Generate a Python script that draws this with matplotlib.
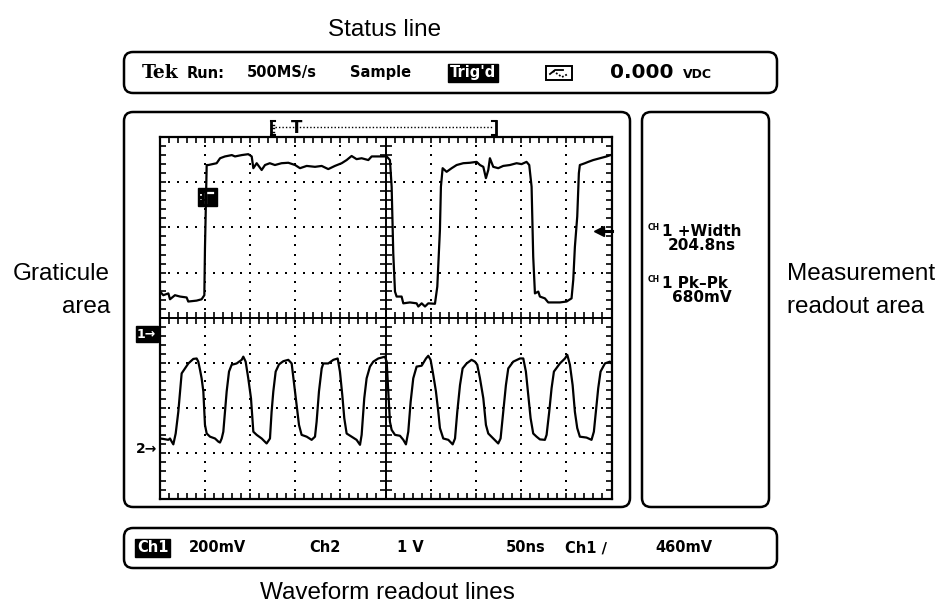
import matplotlib.pyplot as plt
import numpy as np
from matplotlib.patches import FancyBboxPatch, Rectangle

# time in ns (50 ns/div, 10 div), vertical in screen divisions (0 = centre line)
ch1_t = [
    0.6, 4.2, 9.8, 11.6, 17.1, 22.7, 30.0, 31.8, 41.0, 46.6,
    49.6, 50.3, 52.2, 54.0, 63.2, 67.0, 72.4, 80.0, 83.5, 91.0,
    98.2, 102.0, 103.8, 107.5, 113.0, 116.7, 122.0, 127.7, 135.0, 142.5,
    150.0, 155.4, 162.8, 172.0, 179.4, 186.7, 194.0, 201.5, 207.0, 212.5,
    218.0, 223.6, 231.0, 234.7, 249.4, 251.3, 254.9, 256.8, 258.6, 260.5,
    262.3, 267.8, 269.7, 277.0, 284.4, 286.3, 290.0, 293.7, 297.3, 304.7,
    307.3, 310.2, 311.3, 313.2, 317.6, 323.2, 328.7, 336.0, 343.4, 350.8,
    354.5, 358.2, 361.1, 363.7, 365.5, 369.2, 374.7, 380.2, 387.6, 395.0,
    400.5, 406.0, 409.0, 411.6, 413.4, 415.3, 419.0, 420.8, 426.3, 430.0,
    442.9, 450.3, 455.8, 457.7, 459.5, 462.1, 463.9, 465.0, 470.6, 474.3,
    479.8, 487.2, 494.6, 499.0]
ch1_y = [
    0.58, 0.50, 0.54, 0.41, 0.50, 0.47, 0.45, 0.36, 0.38, 0.41,
    0.50, 1.54, 3.38, 3.38, 3.42, 3.53, 3.57, 3.60, 3.57, 3.60,
    3.62, 3.57, 3.31, 3.42, 3.27, 3.38, 3.42, 3.38, 3.42, 3.43,
    3.38, 3.31, 3.36, 3.34, 3.36, 3.29, 3.36, 3.42, 3.49, 3.58,
    3.51, 3.53, 3.49, 3.57, 3.57, 3.57, 3.49, 2.90, 1.42, 0.58,
    0.47, 0.47, 0.32, 0.34, 0.32, 0.25, 0.32, 0.25, 0.32, 0.31,
    0.69, 1.94, 2.90, 3.31, 3.23, 3.31, 3.38, 3.42, 3.43, 3.45,
    3.38, 3.34, 3.09, 3.27, 3.53, 3.34, 3.31, 3.36, 3.38, 3.42,
    3.40, 3.45, 3.38, 2.90, 1.35, 0.54, 0.58, 0.47, 0.43, 0.34,
    0.34, 0.36, 0.43, 0.84, 1.57, 2.24, 3.20, 3.38, 3.42, 3.45,
    3.49, 3.53, 3.57, 3.60]

ch2_t = [
    0.6, 4.2, 9.8, 11.6, 13.5, 15.3, 17.9, 20.8, 22.7, 24.5,
    28.2, 31.9, 37.4, 41.1, 42.9, 44.8, 46.6, 48.5, 49.6, 50.3,
    52.2, 55.9, 61.4, 65.1, 66.9, 68.8, 70.6, 72.4, 74.3, 76.9,
    79.8, 85.3, 90.9, 92.7, 95.3, 98.2, 101.2, 102.7, 103.8, 107.5,
    113.0, 118.5, 122.2, 124.0, 125.9, 128.5, 132.2, 137.0, 142.5, 146.2,
    149.1, 151.7, 154.3, 157.2, 162.8, 168.3, 172.0, 173.8, 176.4, 179.4,
    181.2, 186.7, 192.3, 197.1, 199.6, 202.2, 204.4, 207.0, 212.5, 218.0,
    221.8, 223.6, 226.5, 229.1, 232.8, 236.5, 242.0, 249.4, 251.3, 254.9,
    256.8, 260.5, 266.0, 269.7, 272.6, 275.2, 277.8, 280.7, 284.4, 290.0,
    294.8, 297.3, 299.9, 302.9, 305.8, 308.4, 310.2, 313.9, 319.5, 324.3,
    326.9, 329.4, 332.4, 335.3, 339.7, 345.2, 348.9, 351.5, 354.5, 358.2,
    361.1, 363.7, 369.2, 374.7, 377.3, 380.2, 383.2, 385.8, 391.3, 398.7,
    402.4, 405.3, 407.9, 410.5, 413.4, 417.1, 420.8, 426.3, 428.2, 431.1,
    433.7, 436.3, 442.9, 448.5, 451.1, 454.0, 457.0, 459.5, 462.1, 465.0,
    472.4, 477.9, 480.5, 482.7, 485.3, 487.9, 492.7, 498.2, 500.0]
ch2_y = [
    -2.67, -2.68, -2.70, -2.67, -2.74, -2.80, -2.56, -2.08, -1.63, -1.23,
    -1.12, -1.01, -0.91, -0.90, -0.97, -1.15, -1.34, -1.63, -2.08, -2.37,
    -2.56, -2.63, -2.67, -2.74, -2.76, -2.67, -2.52, -2.08, -1.63, -1.19,
    -1.04, -1.01, -0.93, -0.86, -0.97, -1.34, -1.78, -2.22, -2.52, -2.59,
    -2.67, -2.78, -2.67, -2.08, -1.63, -1.19, -1.03, -0.96, -0.93, -1.01,
    -1.49, -1.93, -2.37, -2.59, -2.63, -2.70, -2.63, -2.30, -1.63, -1.12,
    -1.01, -1.01, -0.93, -0.90, -1.19, -1.71, -2.22, -2.56, -2.63, -2.70,
    -2.81, -2.59, -1.78, -1.34, -1.08, -0.97, -0.90, -0.86, -0.97, -2.30,
    -2.48, -2.59, -2.61, -2.70, -2.80, -2.52, -1.86, -1.34, -1.08, -1.06,
    -0.90, -0.84, -0.93, -1.27, -1.63, -2.08, -2.44, -2.67, -2.70, -2.80,
    -2.67, -2.08, -1.49, -1.12, -1.01, -0.93, -0.97, -1.04, -1.34, -1.78,
    -2.37, -2.56, -2.67, -2.78, -2.67, -2.08, -1.49, -1.12, -0.97, -0.90,
    -0.90, -1.19, -1.71, -2.22, -2.56, -2.63, -2.69, -2.70, -2.59, -2.08,
    -1.56, -1.19, -1.01, -0.90, -0.82, -1.04, -1.49, -2.08, -2.44, -2.63,
    -2.65, -2.70, -2.52, -2.08, -1.56, -1.19, -1.01, -0.97, -1.01]

# readouts on the screen: (text, left x in px)
status_items = [("Run:", 187), ("500MS/s", 247), ("Sample", 350)]
bottom_items = [("200mV", 189), ("Ch2", 309), ("1 V", 397), ("50ns", 506),
                ("Ch1 \u2215", 565), ("460mV", 655)]

label_font = ['Liberation Sans Narrow', 'Liberation Sans', 'DejaVu Sans']
lab = dict(family=label_font, fontsize=17.5, va='center')
scr = dict(family='DejaVu Sans', fontweight='bold', fontsize=10.5, va='center')

fig = plt.figure(figsize=(9.47, 6.14), dpi=100)

# overlay in pixel coordinates for frames and labels
ov = fig.add_axes([0, 0, 1, 1])
ov.set_xlim(0, 947)
ov.set_ylim(614, 0)
ov.axis('off')


def frame(x0, y0, x1, y1):
    ov.add_patch(FancyBboxPatch((x0, y0), x1 - x0, y1 - y0,
                                boxstyle="round,pad=0,rounding_size=9",
                                fc='none', ec='black', lw=1.8))


frame(124, 52, 777, 93)
frame(124, 112, 630, 507)
frame(642, 112, 769, 507)
frame(124, 528, 777, 568)

# outside labels
ov.text(385, 30, "Status line", ha='center', **lab)
ov.text(387, 593, "Waveform readout lines", ha='center', **lab)
ov.text(110, 274, "Graticule", ha='right', **lab)
ov.text(110, 307, "area", ha='right', **lab)
ov.text(787, 274, "Measurement", ha='left', **lab)
ov.text(787, 307, "readout area", ha='left', **lab)

# status line
ov.text(142, 73, "Tek", family='DejaVu Serif', fontweight='bold', fontsize=13.5, va='center')
for txt, x in status_items:
    ov.text(x, 73, txt, **scr)
ov.text(450, 73, "Trig'd", color='white', **scr,
        bbox=dict(boxstyle='square,pad=0.12', fc='black', ec='black'))
ov.add_patch(Rectangle((546, 66), 26, 14, fc='none', ec='black', lw=1.4))
ov.plot([550, 555, 563], [74, 70, 70], color='black', lw=1.3)
ov.plot([553, 562, 568], [71, 77, 74], color='black', lw=1.3, ls=(0, (1, 1)))
ov.text(610, 73, "0.000", family='DejaVu Sans', fontweight='bold', fontsize=14.5, va='center')
ov.text(683, 74, "VDC", family='DejaVu Sans', fontweight='bold', fontsize=9, va='center')

# waveform readout line
ov.text(137, 548, "Ch1", color='white', **scr,
        bbox=dict(boxstyle='square,pad=0.12', fc='black', ec='black'))
for txt, x in bottom_items:
    ov.text(x, 548, txt, **scr)

# measurement readouts
for y, name, value in [(231, "1 +Width", "204.8ns"), (283, "1 Pk\u2013Pk", "680mV")]:
    ov.text(648, y - 3, "CH", family='DejaVu Sans', fontweight='bold', fontsize=5.5, va='center')
    ov.text(662, y, name, family='DejaVu Sans', fontweight='bold', fontsize=11, va='center')
    ov.text(702, y + 15, value, ha='center', family='DejaVu Sans', fontweight='bold',
            fontsize=11, va='center')

# record view bracket above the graticule
ov.plot([271, 271], [121, 135], color='black', lw=2)
ov.plot([271, 275], [121, 121], color='black', lw=1.5)
ov.plot([271, 275], [135, 135], color='black', lw=1.5)
for yy in [124.5, 128, 131.5]:
    ov.plot([271, 274], [yy, yy], color='black', lw=1)
ov.plot([496, 496], [121, 135], color='black', lw=2)
ov.plot([492, 496], [121, 121], color='black', lw=1.5)
ov.plot([492, 496], [135, 135], color='black', lw=1.5)
ov.plot([275, 492], [127, 127], color='black', lw=1, ls=(0, (1, 1.5)))
ov.text(297, 128, "T", family='DejaVu Sans', fontweight='bold', fontsize=12,
        ha='center', va='center')

# graticule
ax = fig.add_axes([159.5 / 947, 1 - 498.6 / 614, 452 / 947, 361.6 / 614])
ax.set_xlim(0, 500)
ax.set_ylim(-4, 4)
ax.patch.set_alpha(0)
for s in ax.spines.values():
    s.set_linewidth(1.6)
ax.set_xticks(np.arange(0, 501, 10))
ax.set_yticks(np.arange(-4, 4.01, 0.2))
ax.tick_params(direction='in', length=4, width=1.2, top=True, right=True,
               labelbottom=False, labelleft=False)

yd = np.arange(-3.8, 3.81, 0.2)
xd = np.arange(10, 491, 10)
for xv in [50, 100, 150, 200, 300, 350, 400, 450]:
    ax.scatter(np.full(len(yd), xv), yd, s=3, marker='s', color='black', lw=0)
for yv in [-3, -2, -1, 1, 2, 3]:
    ax.scatter(xd, np.full(len(xd), yv), s=3, marker='s', color='black', lw=0)

ax.axhline(0, color='black', lw=1.4)
ax.axvline(250, color='black', lw=1.4)
ax.plot(xd, np.zeros(len(xd)), ls='', marker='|', ms=8, mew=1.2, color='black')
ax.plot(np.full(len(yd), 250), yd, ls='', marker='_', ms=8, mew=1.2, color='black')

ax.plot(ch1_t, ch1_y, color='black', lw=1.6)
ax.plot(ch2_t, ch2_y, color='black', lw=1.6)

# channel / trigger markers
ov.text(137, 334, "1\u2192", color='white', family='DejaVu Sans', fontweight='bold',
        fontsize=9, va='center', bbox=dict(boxstyle='square,pad=0.1', fc='black', ec='black'))
ov.text(136, 449, "2\u2192", family='DejaVu Sans', fontweight='bold', fontsize=10, va='center')
ov.add_patch(Rectangle((198, 188), 19, 18, fc='black', ec='black', zorder=5))
ov.plot([206, 206, 213], [203, 193, 193], color='white', lw=1.6, zorder=6)
ov.plot([201, 201], [194, 200], color='white', lw=1.3, ls=(0, (1, 2)), zorder=6)
# trigger level arrow at the right edge
ov.plot([600, 612], [231, 231], color='black', lw=2.2, zorder=6)
ov.plot([599], [231], marker='<', ms=7, color='black', zorder=6)

fig.savefig('out.png', dpi=100)
